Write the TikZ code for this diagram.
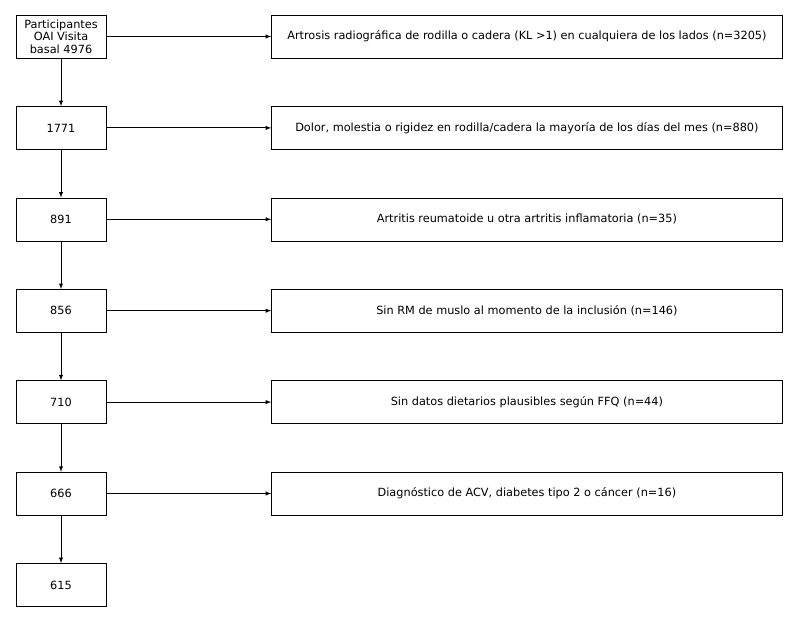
\documentclass[tikz,border=0pt]{standalone}
\usepackage{fontspec}
\setmainfont{DejaVu Sans}
\usetikzlibrary{arrows}
\usetikzlibrary{positioning}

\begin{document}
\begin{tikzpicture}[x = 1pt, y = -1pt, font = \fontsize{11.3}{12.5}\selectfont]
	\tikzstyle{countStyle} = [draw, minimum width = 90pt, minimum height = 43pt, inner sep = 1pt, align = center]
	\tikzstyle{exclStyle} = [draw, minimum width = 511pt, minimum height = 43pt, inner sep = 1pt]
	\tikzstyle{EdgeStyle} = [-latex, >=latex, shorten >=0pt]
	\useasboundingbox (0,0) rectangle (800,620);
	\node[countStyle] (c0) at (61,36.5) {Participantes\\OAI Visita\\basal 4976};
	\node[countStyle, below = 48pt of c0] (c1) {1771};
	\node[countStyle, below = 48pt of c1] (c2) {891};
	\node[countStyle, below = 48pt of c2] (c3) {856};
	\node[countStyle, below = 48pt of c3] (c4) {710};
	\node[countStyle, below = 48pt of c4] (c5) {666};
	\node[countStyle, below = 48pt of c5] (c6) {615};
	\node[exclStyle, right = 165pt of c0] (e0) {Artrosis radiográfica de rodilla o cadera (KL >1) en cualquiera de los lados (n=3205)};
	\node[exclStyle, right = 165pt of c1] (e1) {Dolor, molestia o rigidez en rodilla/cadera la mayoría de los días del mes (n=880)};
	\node[exclStyle, right = 165pt of c2] (e2) {Artritis reumatoide u otra artritis inflamatoria (n=35)};
	\node[exclStyle, right = 165pt of c3] (e3) {Sin RM de muslo al momento de la inclusión (n=146)};
	\node[exclStyle, right = 165pt of c4] (e4) {Sin datos dietarios plausibles según FFQ (n=44)};
	\node[exclStyle, right = 165pt of c5] (e5) {Diagnóstico de ACV, diabetes tipo 2 o cáncer (n=16)};
	\foreach \i [count = \j] in {0,...,5} {
		\draw[EdgeStyle, line width = 0.9pt] (c\i) -- (c\j);
		\draw[EdgeStyle, line width = 0.9pt] (c\i) -- (e\i);
	}
\end{tikzpicture}
\end{document}
